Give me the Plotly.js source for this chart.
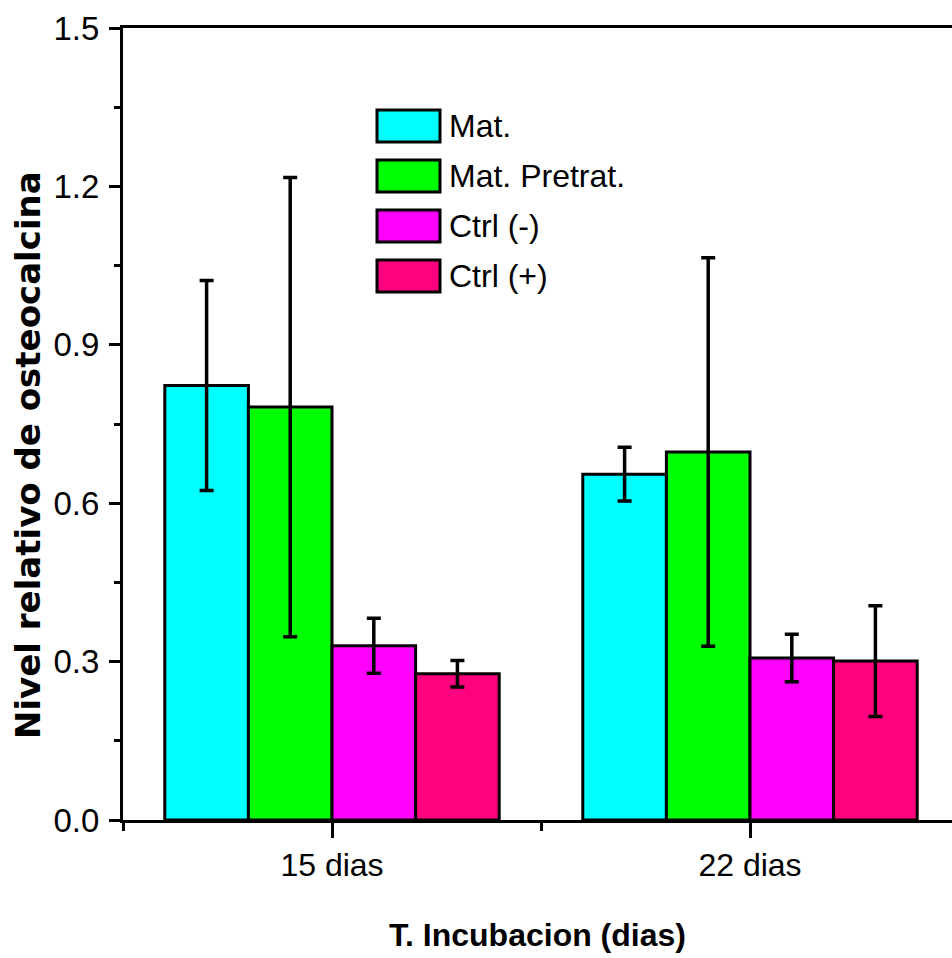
<!DOCTYPE html>
<html>
<head>
<meta charset="utf-8">
<script src="https://cdn.plot.ly/plotly-3.0.1.min.js"></script>
<style>
  html, body { margin: 0; padding: 0; background: #ffffff; overflow: hidden; }
  #chart { width: 952px; height: 958px; }
</style>
</head>
<body>
<div id="chart"></div>
<script>
// ---- Data ----
const categories = ['15 dias', '22 dias'];
const seriesNames = ['Mat.', 'Mat. Pretrat.', 'Ctrl (-)', 'Ctrl (+)'];

const matValues = [0.823, 0.655];
const matErrors = [0.199, 0.051];

const pretratValues = [0.782, 0.697];
const pretratErrors = [0.435, 0.368];

const ctrlNegValues = [0.330, 0.307];
const ctrlNegErrors = [0.052, 0.045];

const ctrlPosValues = [0.277, 0.301];
const ctrlPosErrors = [0.025, 0.105];

const yTickLabels = ['0.0', '0.3', '0.6', '0.9', '1.2', '1.5'];

// ---- Styling ----
const seriesColors = ['#00FFFF', '#00FF00', '#FF00FF', '#FF007F'];
const sans = '"Liberation Sans", Arial, sans-serif';

const values = [matValues, pretratValues, ctrlNegValues, ctrlPosValues];
const errors = [matErrors, pretratErrors, ctrlNegErrors, ctrlPosErrors];
const xPos = categories.map((_, i) => i + 1);

const traces = seriesNames.map((name, s) => ({
  type: 'bar',
  name: name,
  x: xPos,
  y: values[s],
  marker: { color: seriesColors[s], line: { color: '#000000', width: 3 } },
  error_y: { type: 'data', array: errors[s], visible: true, color: '#000000', thickness: 3.5, width: 7 },
  showlegend: false
}));

// plot-area geometry helpers (pixels -> paper)
const W = 952, H = 958, ML = 123, MR = 0, MT = 28, MB = 138;
const pw = W - ML - MR, ph = H - MT - MB;
const px = v => (v - ML) / pw;
const py = v => (H - MB - v) / ph;

const shapes = [];
const annotations = [];
seriesNames.forEach((name, s) => {
  const cy = 126 + 50 * s;
  shapes.push({
    type: 'rect', xref: 'paper', yref: 'paper',
    x0: px(377), x1: px(440), y0: py(cy + 16), y1: py(cy - 16),
    fillcolor: seriesColors[s], line: { color: '#000000', width: 3 }
  });
  annotations.push({
    xref: 'paper', yref: 'paper', x: px(447), y: py(cy),
    xanchor: 'left', yanchor: 'middle', showarrow: false,
    text: name, font: { family: sans, size: 32, color: '#000000' }
  });
});

annotations.push({
  xref: 'paper', yref: 'paper', x: px(28), y: py(455),
  xanchor: 'center', yanchor: 'middle', showarrow: false, textangle: -90,
  text: 'Nivel relativo de osteocalcina',
  font: { family: '"DejaVu Sans", sans-serif', size: 34, color: '#000000', weight: 'bold' }
});

const layout = {
  width: W, height: H,
  margin: { l: ML, r: MR, t: MT, b: MB, pad: 0 },
  paper_bgcolor: '#ffffff', plot_bgcolor: '#ffffff',
  barmode: 'group', bargap: 0.2, bargroupgap: 0,
  showlegend: false,
  xaxis: {
    range: [0.5, 0.5 + pw / 418],
    tickmode: 'array', tickvals: xPos, ticktext: categories,
    ticks: 'outside', ticklen: 15, tickwidth: 3, tickcolor: '#000000',
    minor: { tickmode: 'array', tickvals: xPos.map(v => v - 0.5).concat([xPos[xPos.length - 1] + 0.5]), ticks: 'outside', ticklen: 8, tickwidth: 3, tickcolor: '#000000' },
    showline: true, linewidth: 3, linecolor: '#000000', mirror: true,
    showgrid: false, zeroline: false,
    ticklabelstandoff: 0,
    tickfont: { family: sans, size: 32, color: '#000000' },
    title: { text: 'T. Incubacion (dias)', font: { family: sans, size: 32, color: '#000000', weight: 'bold' }, standoff: 42 }
  },
  yaxis: {
    range: [0, 1.5],
    tickmode: 'array', tickvals: yTickLabels.map(Number), ticktext: yTickLabels,
    ticks: 'outside', ticklen: 11, tickwidth: 3, tickcolor: '#000000',
    minor: { dtick: 0.15, tick0: 0, ticks: 'outside', ticklen: 6, tickwidth: 3, tickcolor: '#000000' },
    showline: true, linewidth: 3, linecolor: '#000000', mirror: false,
    showgrid: false, zeroline: false,
    ticklabelstandoff: 3,
    tickfont: { family: sans, size: 33, color: '#000000' }
  },
  shapes: shapes,
  annotations: annotations
};

Plotly.newPlot('chart', traces, layout, { staticPlot: true, displayModeBar: false });
</script>
</body>
</html>
